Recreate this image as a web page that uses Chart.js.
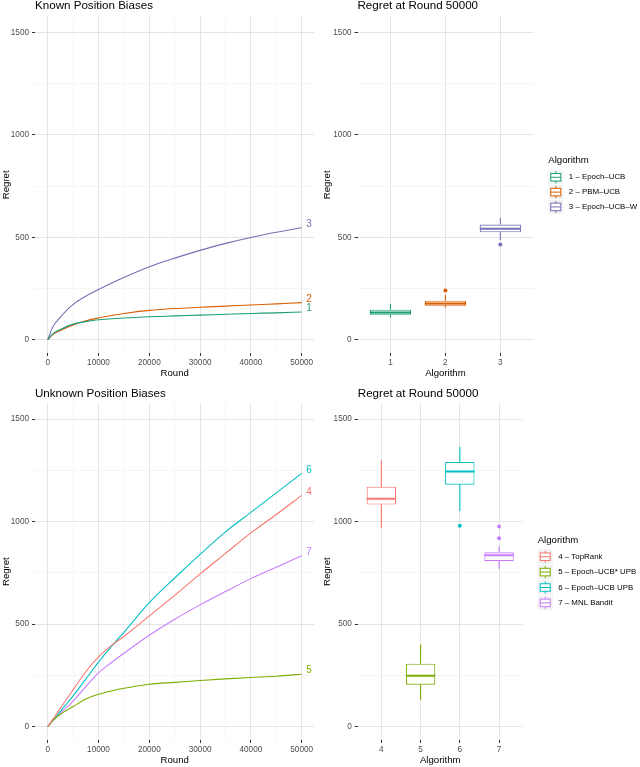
<!DOCTYPE html>
<html lang="en">
<head>
<meta charset="UTF-8" />
<title>Regret - known and unknown position biases</title>
<script src="https://cdn.jsdelivr.net/npm/chart.js"></script>
<style>
    html, body { margin: 0; padding: 0; background: #fff; }
    body { width: 640px; height: 767px; position: relative; overflow: hidden; }
    .panel { position: absolute; }
</style>
</head>
<body>
<div class="panel" style="left:0;top:0;width:320px;height:380px"><canvas id="knownLines"></canvas></div>
<div class="panel" style="left:320px;top:0;width:320px;height:380px"><canvas id="knownBoxes"></canvas></div>
<div class="panel" style="left:0;top:380px;width:320px;height:387px"><canvas id="unknownLines"></canvas></div>
<div class="panel" style="left:320px;top:380px;width:320px;height:387px"><canvas id="unknownBoxes"></canvas></div>

<script>
// ---- data ----
const rounds = [0, 1000, 2500, 5000, 7500, 10000, 12500, 15000, 20000, 25000, 30000, 35000, 40000, 45000, 50000];

// known position biases (mean regret per round)
const epochUcb   = [0, 28, 50, 76, 88, 97, 102, 106, 112, 116, 120, 124, 128, 131, 135];
const pbmUcb     = [0, 25, 45, 72, 92, 106, 118, 128, 143, 152, 158, 164, 169, 175, 181];
const epochUcbW  = [0, 62, 110, 172, 212, 245, 276, 304, 356, 398, 436, 470, 499, 524, 546];

// unknown position biases
const topRank         = [0, 36, 90, 180, 268, 340, 395, 440, 540, 640, 745, 845, 945, 1035, 1128];
const epochUcbStarUpb = [0, 30, 60, 98, 135, 158, 174, 187, 207, 216, 225, 233, 240, 246, 256];
const epochUcbUpb     = [0, 30, 75, 150, 232, 315, 390, 460, 605, 725, 840, 950, 1045, 1140, 1235];
const mnlBandit       = [0, 28, 65, 125, 195, 262, 312, 358, 446, 524, 594, 659, 722, 778, 833];

// boxplots of regret at round 50000
const knownCats = ['1', '2', '3'];
const knownNames = ['1 \u2013 Epoch\u2013UCB', '2 \u2013 PBM\u2013UCB', '3 \u2013 Epoch\u2013UCB\u2013W'];
const knownLow  = [107, 156, 487];
const knownQ1   = [122, 166, 524];
const knownMed  = [133, 177, 541];
const knownQ3   = [146, 190, 562];
const knownHigh = [175, 219, 594];
const knownOut  = [[], [240], [464]];

const unknownCats = ['4', '5', '6', '7'];
const unknownNames = ['4 \u2013 TopRank', '5 \u2013 Epoch\u2013UCB* UPB', '6 \u2013 Epoch\u2013UCB UPB', '7 \u2013 MNL Bandit'];
const unknownLow  = [969, 130, 1050, 770];
const unknownQ1   = [1083, 205, 1180, 807];
const unknownMed  = [1112, 248, 1244, 836];
const unknownQ3   = [1170, 307, 1291, 850];
const unknownHigh = [1299, 401, 1364, 880];
const unknownOut  = [[], [], [980], [919, 976]];

const regretTicks = [0, 250, 500, 750, 1000, 1250, 1500];
const roundTicks = [0, 5000, 10000, 15000, 20000, 25000, 30000, 35000, 40000, 45000, 50000];

const knownColors = ['#1B9E77', '#D95F02', '#7570B3'];
const unknownColors = ['#F8766D', '#7CAE00', '#00BFC4', '#C77CFF'];

// ---- styling ----
const FONT = "'Liberation Sans', Arial, Helvetica, sans-serif";
Chart.defaults.font.family = FONT;
Chart.defaults.color = '#4D4D4D';
const MAJOR_GRID = '#E4E4E4';
const MINOR_GRID = '#F1F1F1';
const TICK_MARK = '#333333';
const TICK_FONT = 8.2;

function regretAxis(width, titlePad) {
    const major = c => c.tick && c.tick.value % 500 === 0;
    return {
        type: 'linear', min: -65, max: 1577,
        afterBuildTicks: s => { s.ticks = regretTicks.map(v => ({ value: v })); },
        afterFit: s => { s.width = width; },
        border: { display: false },
        grid: {
            color: c => major(c) ? MAJOR_GRID : MINOR_GRID,
            lineWidth: c => major(c) ? 1 : 0.7,
            tickColor: c => major(c) ? TICK_MARK : 'rgba(0,0,0,0)',
            tickWidth: 1,
            tickLength: 3
        },
        ticks: {
            padding: 3, color: '#4D4D4D', font: { size: TICK_FONT },
            callback: v => v % 500 === 0 ? String(v) : ''
        },
        title: { display: true, text: 'Regret', color: '#000', font: { size: 9.6 }, padding: { top: titlePad, bottom: 0 } }
    };
}

function roundAxis() {
    const major = c => c.tick && c.tick.value % 10000 === 0;
    return {
        type: 'linear', min: -2500, max: 52500,
        afterBuildTicks: s => { s.ticks = roundTicks.map(v => ({ value: v })); },
        afterFit: s => { s.height = 27; },
        border: { display: false },
        grid: {
            color: c => major(c) ? MAJOR_GRID : MINOR_GRID,
            lineWidth: c => major(c) ? 1 : 0.7,
            tickColor: c => major(c) ? TICK_MARK : 'rgba(0,0,0,0)',
            tickWidth: 1,
            tickLength: 3
        },
        ticks: {
            autoSkip: false, maxRotation: 0, padding: 2, color: '#4D4D4D', font: { size: TICK_FONT },
            callback: v => v % 10000 === 0 ? String(v) : ''
        },
        title: { display: true, text: 'Round', color: '#000', font: { size: 9.6 }, padding: { top: 0, bottom: 1 } }
    };
}

function algoAxis(cats) {
    return {
        type: 'linear', min: -0.6, max: cats.length - 0.4, offset: false,
        afterBuildTicks: s => { s.ticks = cats.map((c, i) => ({ value: i })); },
        afterFit: s => { s.height = 27; },
        border: { display: false },
        grid: { offset: false, color: MAJOR_GRID, lineWidth: 1, tickColor: TICK_MARK, tickWidth: 1, tickLength: 3 },
        ticks: {
            autoSkip: false, maxRotation: 0, padding: 2, color: '#4D4D4D', font: { size: TICK_FONT },
            callback: v => cats[v]
        },
        title: { display: true, text: 'Algorithm', color: '#000', font: { size: 9.6 }, padding: { top: 0, bottom: 1 } }
    };
}

function panelTitle(text, padTop, padBottom) {
    return {
        display: true, text: text, align: 'start', fullSize: false, color: '#000',
        font: { size: 11.6, weight: 'normal', lineHeight: 1 },
        padding: { top: padTop, bottom: padBottom }
    };
}

// numbers at the end of each curve
const endLabels = {
    id: 'endLabels',
    afterDatasetsDraw(chart, args, opts) {
        const { ctx, scales: { x, y } } = chart;
        ctx.save();
        ctx.font = `10px ${FONT}`;
        ctx.textAlign = 'left';
        ctx.textBaseline = 'middle';
        chart.data.datasets.forEach((ds, i) => {
            const last = ds.data[ds.data.length - 1];
            ctx.fillStyle = ds.borderColor;
            ctx.fillText(opts.labels[i], x.getPixelForValue(last.x) + 4.5, y.getPixelForValue(last.y) - 3.5);
        });
        ctx.restore();
    }
};

// ggplot style legend with boxplot keys
const boxLegend = {
    id: 'boxLegend',
    afterDraw(chart, args, opts) {
        const ctx = chart.ctx;
        ctx.save();
        ctx.textAlign = 'left';
        ctx.textBaseline = 'middle';
        ctx.fillStyle = '#000';
        ctx.font = `9.6px ${FONT}`;
        ctx.fillText(opts.title, opts.x, opts.titleY);
        ctx.font = `7.9px ${FONT}`;
        opts.names.forEach((name, i) => {
            const cy = opts.firstY + i * opts.step;
            const kc = opts.x + 7.5;
            const h = 15;
            ctx.fillStyle = '#F2F2F2';
            ctx.fillRect(opts.x, cy - opts.step / 2 + 0.5, 15, opts.step - 1);
            ctx.strokeStyle = opts.colors[i];
            ctx.lineWidth = 1;
            ctx.beginPath();
            ctx.moveTo(kc, cy - 0.4 * h); ctx.lineTo(kc, cy - 0.25 * h);
            ctx.moveTo(kc, cy + 0.25 * h); ctx.lineTo(kc, cy + 0.4 * h);
            ctx.stroke();
            ctx.fillStyle = '#fff';
            ctx.fillRect(kc - 5, cy - 0.25 * h, 10, 0.5 * h);
            ctx.strokeRect(kc - 5, cy - 0.25 * h, 10, 0.5 * h);
            ctx.beginPath();
            ctx.moveTo(kc - 5, cy); ctx.lineTo(kc + 5, cy);
            ctx.stroke();
            ctx.fillStyle = '#000';
            ctx.fillText(name, opts.x + 20.5, cy);
        });
        ctx.restore();
    }
};

function lineChart(id, cfg) {
    return new Chart(document.getElementById(id), {
        type: 'line',
        data: {
            datasets: cfg.series.map((s, k) => ({
                data: rounds.map((r, i) => ({ x: r, y: s[i] })),
                borderColor: cfg.colors[k],
                borderWidth: 1.1,
                pointRadius: 0,
                fill: false,
                cubicInterpolationMode: 'monotone'
            }))
        },
        options: {
            responsive: true,
            maintainAspectRatio: false,
            animation: false,
            events: [],
            layout: { padding: { left: 0, right: 5.6, top: 0, bottom: 0 } },
            scales: { x: roundAxis(), y: regretAxis(35, 0.5) },
            plugins: {
                legend: { display: false },
                tooltip: { enabled: false },
                title: panelTitle(cfg.title, cfg.titlePad[0], cfg.titlePad[1]),
                endLabels: { labels: cfg.labels }
            }
        },
        plugins: [endLabels]
    });
}

function boxChart(id, cfg) {
    const datasets = [];
    // boxes from first to third quartile
    datasets.push({
        type: 'bar',
        data: cfg.cats.map((c, i) => ({ x: i, y: [cfg.q1[i], cfg.q3[i]] })),
        backgroundColor: '#fff',
        borderColor: cfg.colors,
        borderWidth: 1.1,
        borderSkipped: false,
        barPercentage: 0.75,
        categoryPercentage: 1,
        order: 3
    });
    cfg.cats.forEach((c, i) => {
        // whiskers
        datasets.push({
            type: 'line',
            data: [{ x: i, y: cfg.q3[i] }, { x: i, y: cfg.high[i] }, { x: i, y: null },
                   { x: i, y: cfg.q1[i] }, { x: i, y: cfg.low[i] }],
            borderColor: cfg.colors[i], borderWidth: 1.1, pointRadius: 0, spanGaps: false, order: 4
        });
        // median
        datasets.push({
            type: 'line',
            data: [{ x: i - 0.375, y: cfg.med[i] }, { x: i + 0.375, y: cfg.med[i] }],
            borderColor: cfg.colors[i], borderWidth: 2, pointRadius: 0, order: 1
        });
        // outliers
        if (cfg.out[i].length) {
            datasets.push({
                type: 'line',
                data: cfg.out[i].map(v => ({ x: i, y: v })),
                showLine: false, pointRadius: 2, pointBorderWidth: 0,
                pointBackgroundColor: cfg.colors[i], borderColor: cfg.colors[i], order: 0
            });
        }
    });
    return new Chart(document.getElementById(id), {
        type: 'bar',
        data: { datasets },
        options: {
            responsive: true,
            maintainAspectRatio: false,
            animation: false,
            events: [],
            layout: { padding: { left: 0, right: cfg.padRight, top: 0, bottom: 0 } },
            scales: { x: algoAxis(cfg.cats), y: regretAxis(cfg.axisWidth, 2) },
            plugins: {
                legend: { display: false },
                tooltip: { enabled: false },
                title: panelTitle('Regret at Round 50000', cfg.titlePad[0], cfg.titlePad[1]),
                boxLegend: cfg.legend
            }
        },
        plugins: [boxLegend]
    });
}

lineChart('knownLines', {
    title: 'Known Position Biases',
    series: [epochUcb, pbmUcb, epochUcbW],
    colors: knownColors,
    labels: knownCats,
    titlePad: [0, 5]
});

boxChart('knownBoxes', {
    cats: knownCats, low: knownLow, q1: knownQ1, med: knownMed, q3: knownQ3, high: knownHigh, out: knownOut,
    colors: knownColors, axisWidth: 37.5, padRight: 106.7, titlePad: [0, 5],
    legend: { title: 'Algorithm', names: knownNames, colors: knownColors, x: 228.3, titleY: 160, firstY: 177.3, step: 14.8 }
});

lineChart('unknownLines', {
    title: 'Unknown Position Biases',
    series: [topRank, epochUcbStarUpb, epochUcbUpb, mnlBandit],
    colors: unknownColors,
    labels: unknownCats,
    titlePad: [8, 3.7]
});

boxChart('unknownBoxes', {
    cats: unknownCats, low: unknownLow, q1: unknownQ1, med: unknownMed, q3: unknownQ3, high: unknownHigh, out: unknownOut,
    colors: unknownColors, axisWidth: 37.8, padRight: 117.4, titlePad: [8, 3.7],
    legend: { title: 'Algorithm', names: unknownNames, colors: unknownColors, x: 217.7, titleY: 160, firstY: 176.7, step: 15.4 }
});
</script>
</body>
</html>
